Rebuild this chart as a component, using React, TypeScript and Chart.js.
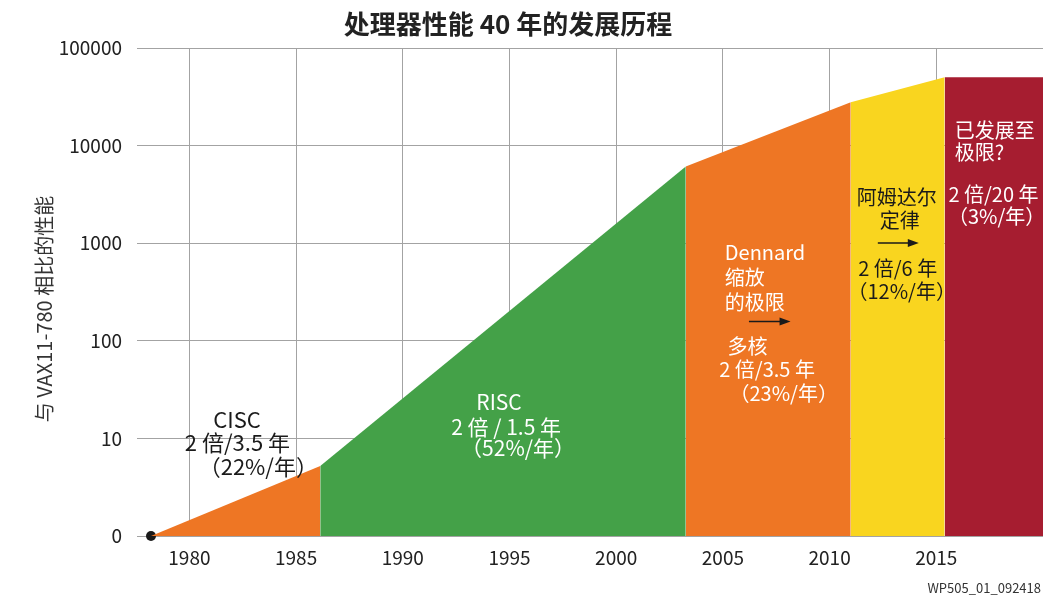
import React, { useEffect, useRef } from "react";
import { Chart, registerables } from "chart.js";

Chart.register(...registerables);

// ---------- data ----------
const phaseNames = ["CISC", "RISC", "Dennard", "Amdahl", "Limit"];
const phaseStartYear = [1978.2, 1986.13, 2003.26, 2010.99, 2015.39];
const phaseEndYear = [1986.13, 2003.26, 2010.99, 2015.39, 2020.0];
const phaseStartPerf = [1, 5.2, 6100, 27800, 50200];
const phaseEndPerf = [5.2, 6100, 27800, 50200, 50200];
const phaseColors = ["#EE7624", "#44A148", "#EE7624", "#F9D51F", "#A61D30"];

const startPointYear = [1978.2];
const startPointPerf = [1];

const xTickYears = [1980, 1985, 1990, 1995, 2000, 2005, 2010, 2015];
const yTickValues = [1, 10, 100, 1000, 10000, 100000];
const yTickLabels = ["0", "10", "100", "1000", "10000", "100000"];

const titleText = "处理器性能 40 年的发展历程";
const yAxisTitle = "与 VAX11-780 相比的性能";
const footnote = "WP505_01_092418";

// annotation texts anchored in data space (year, log10 of performance)
const annoText = [
  "CISC", "2 倍/3.5 年", "（22%/年）",
  "RISC", "2 倍 / 1.5 年", "（52%/年）",
  "Dennard", "缩放", "的极限", "多核", "2 倍/3.5 年", "（23%/年）",
  "阿姆达尔", "定律", "2 倍/6 年", "（12%/年）",
  "已发展至", "极限?", "2 倍/20 年", "（3%/年）",
];
const annoYear = [
  1982.23, 1982.25, 1983.23,
  1994.51, 1994.84, 1995.4,
  2005.09, 2005.09, 2005.09, 2005.22, 2004.83, 2007.85,
  2013.15, 2013.29, 2013.19, 2013.38,
  2015.86, 2015.86, 2017.68, 2017.83,
];
const annoDecade = [
  1.19, 0.954, 0.708,
  1.377, 1.121, 0.899,
  2.906, 2.649, 2.393, 1.942, 1.703, 1.464,
  3.474, 3.231, 2.746, 2.506,
  4.157, 3.931, 3.497, 3.275,
];
const annoAlign = [
  "center", "center", "center",
  "center", "center", "center",
  "left", "left", "left", "left", "left", "center",
  "center", "center", "center", "center",
  "left", "left", "center", "center",
];
const annoColor = [
  "#1a1a1a", "#1a1a1a", "#1a1a1a",
  "#ffffff", "#ffffff", "#ffffff",
  "#ffffff", "#ffffff", "#ffffff", "#ffffff", "#ffffff", "#ffffff",
  "#1a1a1a", "#1a1a1a", "#1a1a1a", "#1a1a1a",
  "#ffffff", "#ffffff", "#ffffff", "#ffffff",
];
const annoSize = [
  22, 22, 22,
  21, 21, 21,
  20, 20, 20, 20, 20, 20,
  20, 20, 20, 20,
  20, 20, 20, 20,
];

const arrowFromYear = [2006.22, 2012.26];
const arrowToYear = [2008.17, 2014.18];
const arrowDecade = [2.198, 3.002];

const FONT = "'Noto Sans CJK SC', 'Noto Sans', sans-serif";

const textPlugin = {
  id: "textPlugin",
  afterDraw(chart: any) {
    const ctx = chart.ctx;
    const xs = chart.scales.x;
    const ys = chart.scales.y;
    ctx.save();
    ctx.textBaseline = "middle";
    for (let i = 0; i < annoText.length; i++) {
      ctx.font = `${annoSize[i]}px ${FONT}`;
      ctx.fillStyle = annoColor[i];
      ctx.textAlign = annoAlign[i];
      const px = xs.getPixelForValue(annoYear[i]);
      const py = ys.getPixelForValue(Math.pow(10, annoDecade[i]));
      ctx.fillText(annoText[i], px, py);
    }
    ctx.strokeStyle = "#1a1a1a";
    ctx.fillStyle = "#1a1a1a";
    ctx.lineWidth = 1.5;
    for (let i = 0; i < arrowFromYear.length; i++) {
      const x1 = xs.getPixelForValue(arrowFromYear[i]);
      const x2 = xs.getPixelForValue(arrowToYear[i]);
      const y = ys.getPixelForValue(Math.pow(10, arrowDecade[i]));
      ctx.beginPath();
      ctx.moveTo(x1, y);
      ctx.lineTo(x2 - 8, y);
      ctx.stroke();
      ctx.beginPath();
      ctx.moveTo(x2, y);
      ctx.lineTo(x2 - 11, y - 4);
      ctx.lineTo(x2 - 11, y + 4);
      ctx.closePath();
      ctx.fill();
    }
    // title
    ctx.font = `bold 26px ${FONT}`;
    ctx.fillStyle = "#222222";
    ctx.textAlign = "center";
    ctx.fillText(titleText, 508, 24);
    // y axis title
    ctx.save();
    ctx.translate(44, 309);
    ctx.rotate(-Math.PI / 2);
    ctx.font = `20px ${FONT}`;
    ctx.fillStyle = "#333333";
    ctx.textAlign = "center";
    ctx.fillText(yAxisTitle, 0, 0);
    ctx.restore();
    // footnote
    ctx.font = `13px ${FONT}`;
    ctx.fillStyle = "#333333";
    ctx.textAlign = "right";
    ctx.fillText(footnote, 1041, 588);
    ctx.restore();
  },
};

export default function App() {
  const canvasRef = useRef<HTMLCanvasElement | null>(null);

  useEffect(() => {
    if (!canvasRef.current) return;
    const datasets: any[] = phaseNames.map((name, i) => ({
      label: name,
      data: [
        { x: phaseStartYear[i], y: phaseStartPerf[i] },
        { x: phaseEndYear[i], y: phaseEndPerf[i] },
      ],
      fill: "start",
      backgroundColor: phaseColors[i],
      borderColor: phaseColors[i],
      borderWidth: 0,
      pointRadius: 0,
      tension: 0,
    }));
    datasets.push({
      label: "start",
      data: startPointYear.map((x, i) => ({ x, y: startPointPerf[i] })),
      showLine: false,
      pointRadius: 5,
      pointBackgroundColor: "#1a1a1a",
      pointBorderColor: "#1a1a1a",
      pointBorderWidth: 0,
      clip: false,
    });

    const gridColor = "#a3a3a3";
    const chart = new Chart(canvasRef.current, {
      type: "line",
      data: { datasets },
      plugins: [textPlugin],
      options: {
        animation: false,
        responsive: true,
        maintainAspectRatio: false,
        devicePixelRatio: 1,
        layout: { padding: { top: 48, right: 9, left: 0, bottom: 0 } },
        font: { family: FONT },
        plugins: {
          legend: { display: false },
          tooltip: { enabled: false },
          title: { display: false },
        },
        scales: {
          x: {
            type: "linear",
            min: 1978.2,
            max: 2020.0,
            afterBuildTicks: (s: any) => {
              s.ticks = xTickYears.map((v) => ({ value: v }));
            },
            afterFit: (s: any) => {
              s.height = 63;
            },
            ticks: {
              callback: (v: any) => String(v),
              color: "#222222",
              font: { size: 19, family: FONT },
              padding: 10,
              maxRotation: 0,
              autoSkip: false,
            },
            grid: { color: gridColor, lineWidth: 1, drawTicks: false },
            border: { display: false },
          },
          y: {
            type: "logarithmic",
            min: 1,
            max: 100000,
            afterBuildTicks: (s: any) => {
              s.ticks = yTickValues.map((v) => ({ value: v }));
            },
            afterFit: (s: any) => {
              s.width = 151;
            },
            ticks: {
              callback: (_v: any, i: number) => yTickLabels[i],
              color: "#222222",
              font: { size: 19, family: FONT },
              padding: 15,
              autoSkip: false,
            },
            grid: {
              color: gridColor,
              lineWidth: 1,
              drawTicks: true,
              tickLength: 14,
              tickColor: gridColor,
            },
            border: { display: false },
          },
        },
      } as any,
    });
    return () => chart.destroy();
  }, []);

  return (
    <div style={{ position: "absolute", left: 0, top: 0, width: 1052, height: 599 }}>
      <canvas ref={canvasRef} />
    </div>
  );
}
